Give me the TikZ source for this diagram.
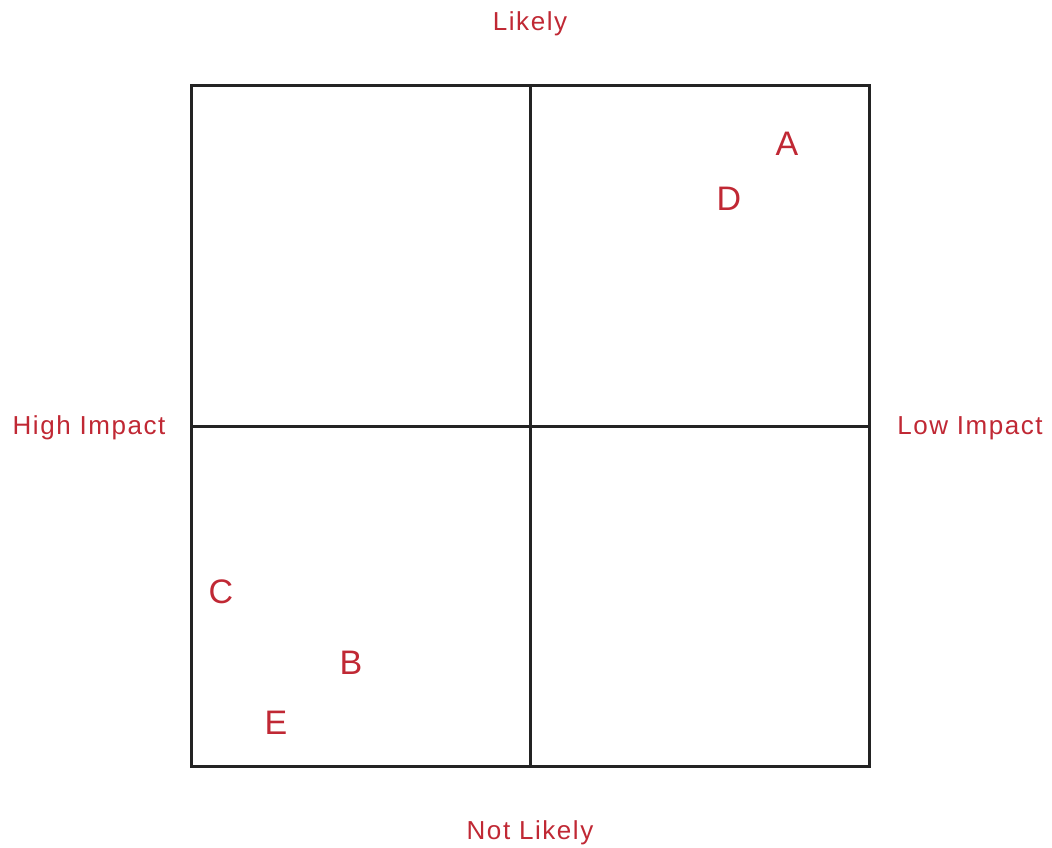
\documentclass[tikz,border=0pt]{standalone}
\usepackage{fontspec}
\setmainfont{Liberation Sans}
\usepackage{tikz}
\usetikzlibrary{positioning}
\definecolor{riskred}{RGB}{192,40,52}
\definecolor{gridgray}{RGB}{35,35,35}

\begin{document}
\begin{tikzpicture}[x=1pt, y=-1pt, axis/.style={text=riskred, font=\fontsize{26}{30}\selectfont\addfontfeatures{LetterSpace=6}}, item/.style={text=riskred, font=\fontsize{34}{40}\selectfont}, grid/.style={draw=gridgray, line width=3pt}]
\useasboundingbox (0,0) rectangle (1052,848);
\coordinate (nw) at (191,86);
\coordinate (se) at (869,766);
\draw[grid] (nw) rectangle (se);
\draw[grid] (530,86) -- (530,766);
\draw[grid] (191,426) -- (869,426);
\node[axis] (likely) at (530,24) {Likely};
\node[axis] (notlikely) at (530,833) {Not Likely};
\node[axis] (highimp) at (89,428) {High Impact};
\node[axis] (lowimp) at (970,428) {Low Impact};
\node[item] (ptA) at (787,144) {A};
\node[item] (ptD) at (729,199) {D};
\node[item] (ptC) at (221,592) {C};
\node[item] (ptB) at (351,663) {B};
\node[item] (ptE) at (276,723) {E};
\end{tikzpicture}
\end{document}
